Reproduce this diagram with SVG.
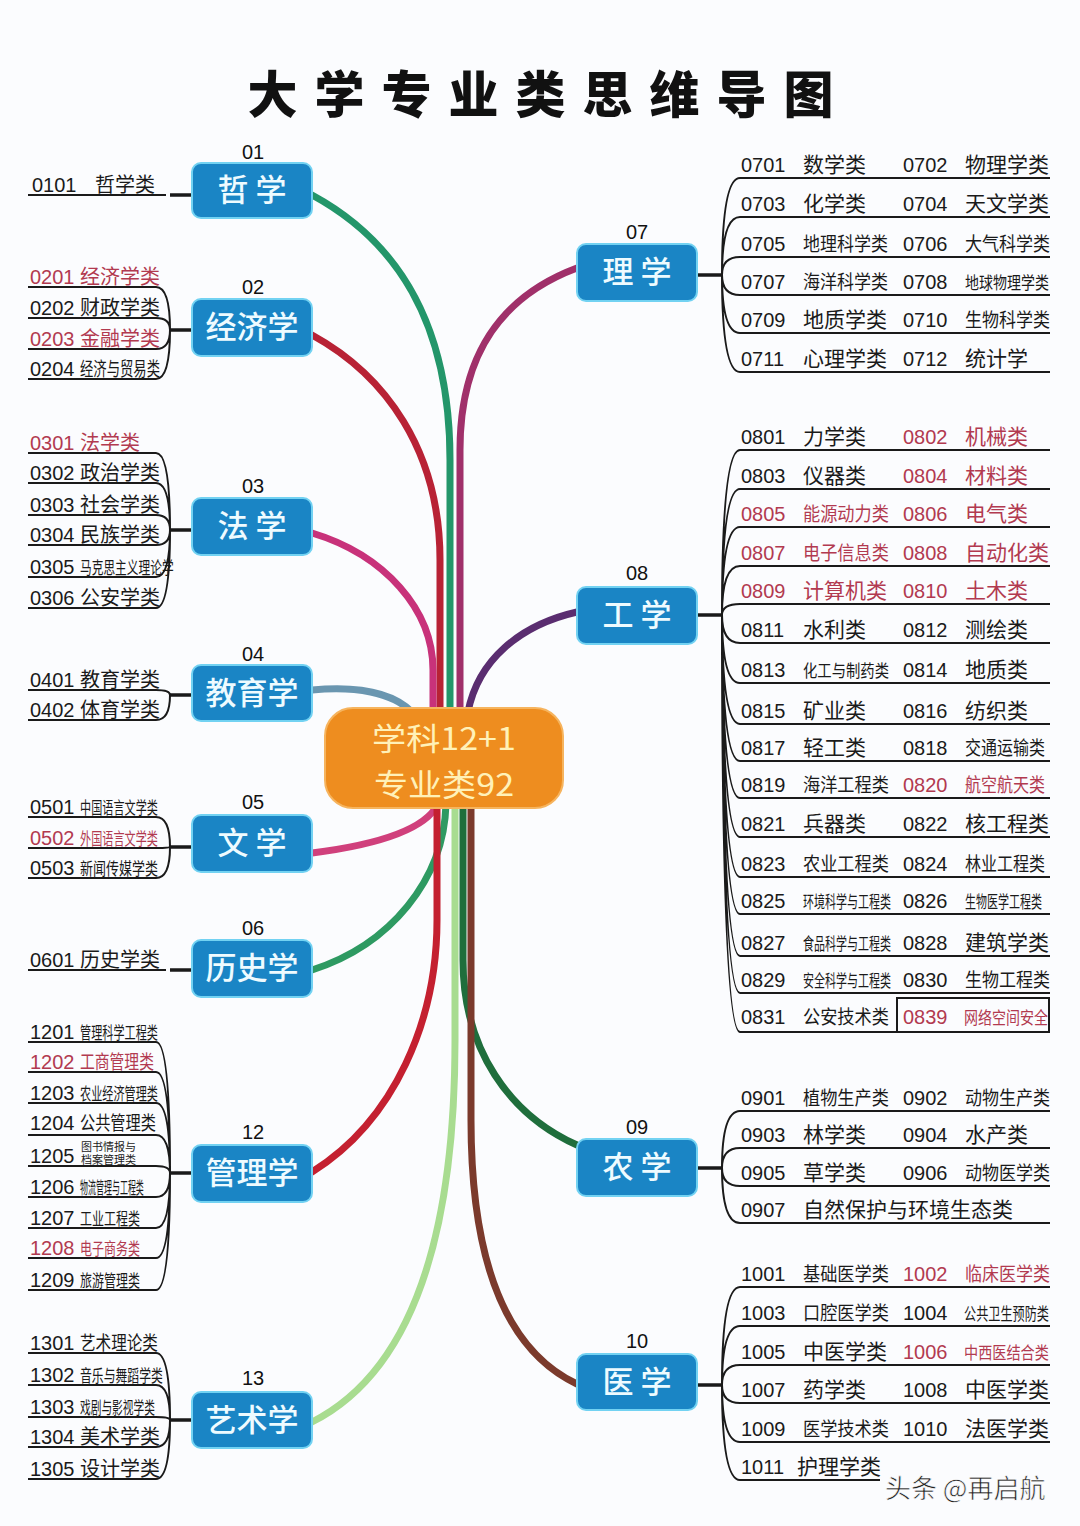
<svg xmlns="http://www.w3.org/2000/svg" width="1080" height="1526" viewBox="0 0 1080 1526">
<style>
.code{font-family:"Liberation Sans",Arial,sans-serif;font-size:20px;fill:#1a1a1a}
.nmL{font-family:"Noto Sans CJK SC",sans-serif;font-size:20px;fill:#1a1a1a}
.nm{font-family:"Noto Sans CJK SC",sans-serif;font-size:21px;fill:#1a1a1a}
.nc{font-family:"Noto Sans CJK SC",sans-serif;font-size:19px;fill:#1a1a1a}
.ns{font-family:"Noto Sans CJK SC",sans-serif;font-size:17px;fill:#1a1a1a}
.tiny{font-family:"Noto Sans CJK SC",sans-serif;font-size:11px;fill:#1a1a1a}
.r{fill:#B23A50}
.br{fill:none;stroke:#1a1a1a;stroke-width:2}
.stub{fill:none;stroke:#1a1a1a;stroke-width:3.5}
.tr{fill:none;stroke-width:7;stroke-linecap:round}
.box{fill:#1A85C5;stroke:#72D2F2;stroke-width:2}
.nl{font-family:"Noto Sans CJK SC",sans-serif;font-size:31px;fill:#EEFBFF;text-anchor:middle;font-weight:500}
.num{font-family:"Liberation Sans",Arial,sans-serif;font-size:20px;fill:#111;text-anchor:middle}
.ct{font-family:"Noto Sans CJK SC",sans-serif;font-size:31px;fill:#FFF1B8;text-anchor:middle}
</style>
<rect width="1080" height="1526" fill="#FBFCFE"/>
<text x="549" y="113" font-family="Noto Sans CJK SC, sans-serif" font-size="50" font-weight="900" letter-spacing="17" text-anchor="middle" fill="#111">大学专业类思维导图</text>

<g id="connectors">
  <path class="tr" stroke="#23966A" d="M312,195 C395,240 450,320 450,460 V712"/>
  <path class="tr" stroke="#B82235" d="M312,335 C385,375 440,450 440,560 V712"/>
  <path class="tr" stroke="#C8327A" d="M312,533 C385,555 433,610 433,670 V712"/>
  <path class="tr" stroke="#6A96B0" d="M312,690 C355,686 392,692 412,712"/>
  <path class="tr" stroke="#A0306A" d="M577,268 C505,295 460,350 460,450 V712"/>
  <path class="tr" stroke="#5A2D70" d="M577,612 C520,625 478,660 468,712"/>
  <path class="tr" stroke="#D0407C" d="M312,853 C375,845 425,830 438,804"/>
  <path class="tr" stroke="#2E9A62" d="M312,970 C390,945 444,880 446,804"/>
  <path class="tr" stroke="#C42030" d="M312,1172 C395,1120 437,1020 437,920 V804"/>
  <path class="tr" stroke="#A8DC90" d="M312,1422 C415,1370 455,1230 455,1040 V804"/>
  <path class="tr" stroke="#1F6E3C" d="M577,1145 C510,1115 463,1050 463,960 V804"/>
  <path class="tr" stroke="#7B3A2C" d="M577,1384 C505,1350 471,1260 471,1120 V804"/>

  <path class="br" d="M28,195 H166"/><path class="stub" d="M170,195 H192"/>
  <path class="stub" d="M170,330 H192"/>
  <path class="br" d="M170,330 Q170,287 156,287 H28 M170,330 Q170,318 156,318 H28 M170,330 Q170,349 156,349 H28 M170,330 Q170,379 156,379 H28"/>
  <path class="stub" d="M170,530 H192"/>
  <path class="br" d="M170,530 Q170,453 156,453 H28 M170,530 Q170,483 156,483 H28 M170,530 Q170,515 156,515 H28 M170,530 Q170,545 156,545 H28 M170,530 Q170,577 156,577 H28 M170,530 Q170,608 156,608 H28"/>
  <path class="stub" d="M170,695 H192"/>
  <path class="br" d="M170,695 Q170,690 156,690 H28 M170,695 Q170,720 156,720 H28"/>
  <path class="stub" d="M170,847 H192"/>
  <path class="br" d="M170,847 Q170,817 156,817 H28 M170,847 Q170,848 156,848 H28 M170,847 Q170,878 156,878 H28"/>
  <path class="br" d="M28,970 H166"/><path class="stub" d="M170,970 H192"/>
  <path class="stub" d="M170,1173 H192"/>
  <path class="br" d="M170,1173 Q170,1042 156,1042 H28 M170,1173 Q170,1072 156,1072 H28 M170,1173 Q170,1103 156,1103 H28 M170,1173 Q170,1135 156,1135 H28 M170,1173 Q170,1166 156,1166 H28 M170,1173 Q170,1197 156,1197 H28 M170,1173 Q170,1228 156,1228 H28 M170,1173 Q170,1258 156,1258 H28 M170,1173 Q170,1290 156,1290 H28"/>
  <path class="stub" d="M170,1420 H192"/>
  <path class="br" d="M170,1420 Q170,1353 156,1353 H28 M170,1420 Q170,1385 156,1385 H28 M170,1420 Q170,1417 156,1417 H28 M170,1420 Q170,1447 156,1447 H28 M170,1420 Q170,1479 156,1479 H28"/>

  <path class="stub" d="M697,275 H722"/>
  <path class="br" d="M722,275 Q722,178 740,178 H1050 M722,275 Q722,217 740,217 H1050 M722,275 Q722,257 740,257 H1050 M722,275 Q722,295 740,295 H1050 M722,275 Q722,333 740,333 H1050 M722,275 Q722,372 740,372 H1050"/>
  <path class="stub" d="M697,615 H722"/>
  <path class="br" d="M722,615 Q722,450 740,450 H1050 M722,615 Q722,489 740,489 H1050 M722,615 Q722,527 740,527 H1050 M722,615 Q722,566 740,566 H1050 M722,615 Q722,604 740,604 H1050 M722,615 Q722,643 740,643 H1050 M722,615 Q722,683 740,683 H1050 M722,615 Q722,724 740,724 H1050 M722,615 Q722,761 740,761 H1050 M722,615 Q722,798 740,798 H1050 M722,615 Q722,837 740,837 H1050 M722,615 Q722,877 740,877 H1050 M722,615 Q722,914 740,914 H1050 M722,615 Q722,956 740,956 H1050 M722,615 Q722,993 740,993 H1050 M722,615 Q722,1032 740,1032 H1050"/>
  <rect x="897" y="998" width="152" height="34" fill="none" stroke="#1a1a1a" stroke-width="2"/>
  <path class="stub" d="M697,1168 H722"/>
  <path class="br" d="M722,1168 Q722,1111 740,1111 H1050 M722,1168 Q722,1148 740,1148 H1050 M722,1168 Q722,1186 740,1186 H1050 M722,1168 Q722,1223 740,1223 H1050"/>
  <path class="stub" d="M697,1385 H722"/>
  <path class="br" d="M722,1385 Q722,1287 740,1287 H1050 M722,1385 Q722,1326 740,1326 H1050 M722,1385 Q722,1365 740,1365 H1050 M722,1385 Q722,1403 740,1403 H1050 M722,1385 Q722,1442 740,1442 H1050 M722,1385 Q722,1480 740,1480 H880"/>
</g>

<g id="center">
  <rect x="325" y="708" width="238" height="100" rx="28" fill="#EE8D1F" stroke="#F6B45E" stroke-width="2"/>
  <text class="ct" transform="translate(444,750) scale(1.1,1)">学科12+1</text>
  <text class="ct" transform="translate(444,796) scale(1.1,1)">专业类92</text>
</g>

<g id="node-01">
  <text class="num" x="253" y="159">01</text>
  <rect class="box" x="192" y="163" width="120" height="55" rx="9"/>
  <text class="nl" x="252" y="201">哲 学</text>
  <text class="code" x="32" y="192">0101</text><text class="nmL" x="95" y="192">哲学类</text>
</g>
<g id="node-02">
  <text class="num" x="253" y="294">02</text>
  <rect class="box" x="192" y="299" width="120" height="57" rx="9"/>
  <text class="nl" x="252" y="338">经济学</text>
  <text class="code r" x="30" y="284">0201</text><text class="nmL r" x="80" y="284">经济学类</text>
  <text class="code" x="30" y="315">0202</text><text class="nmL" x="80" y="315">财政学类</text>
  <text class="code r" x="30" y="346">0203</text><text class="nmL r" x="80" y="346">金融学类</text>
  <text class="code" x="30" y="376">0204</text><text class="nc" transform="translate(80,376) scale(0.702,1)">经济与贸易类</text>
</g>
<g id="node-03">
  <text class="num" x="253" y="493">03</text>
  <rect class="box" x="192" y="498" width="120" height="57" rx="9"/>
  <text class="nl" x="252" y="537">法 学</text>
  <text class="code r" x="30" y="450">0301</text><text class="nmL r" x="80" y="450">法学类</text>
  <text class="code" x="30" y="480">0302</text><text class="nmL" x="80" y="480">政治学类</text>
  <text class="code" x="30" y="512">0303</text><text class="nmL" x="80" y="512">社会学类</text>
  <text class="code" x="30" y="542">0304</text><text class="nmL" x="80" y="542">民族学类</text>
  <text class="code" x="30" y="574">0305</text><text class="ns" transform="translate(80,574) scale(0.689,1)">马克思主义理论学</text>
  <text class="code" x="30" y="605">0306</text><text class="nmL" x="80" y="605">公安学类</text>
</g>
<g id="node-04">
  <text class="num" x="253" y="661">04</text>
  <rect class="box" x="192" y="665" width="120" height="56" rx="9"/>
  <text class="nl" x="252" y="704">教育学</text>
  <text class="code" x="30" y="687">0401</text><text class="nmL" x="80" y="687">教育学类</text>
  <text class="code" x="30" y="717">0402</text><text class="nmL" x="80" y="717">体育学类</text>
</g>
<g id="node-05">
  <text class="num" x="253" y="809">05</text>
  <rect class="box" x="192" y="815" width="120" height="57" rx="9"/>
  <text class="nl" x="252" y="854">文 学</text>
  <text class="code" x="30" y="814">0501</text><text class="ns" transform="translate(80,814) scale(0.655,1)">中国语言文学类</text>
  <text class="code r" x="30" y="845">0502</text><text class="ns r" transform="translate(80,845) scale(0.655,1)">外国语言文学类</text>
  <text class="code" x="30" y="875">0503</text><text class="ns" transform="translate(80,875) scale(0.765,1)">新闻传媒学类</text>
</g>
<g id="node-06">
  <text class="num" x="253" y="935">06</text>
  <rect class="box" x="192" y="940" width="120" height="57" rx="9"/>
  <text class="nl" x="252" y="979">历史学</text>
  <text class="code" x="30" y="967">0601</text><text class="nmL" x="80" y="967">历史学类</text>
</g>
<g id="node-12">
  <text class="num" x="253" y="1139">12</text>
  <rect class="box" x="192" y="1145" width="120" height="57" rx="9"/>
  <text class="nl" x="252" y="1184">管理学</text>
  <text class="code" x="30" y="1039">1201</text><text class="ns" transform="translate(80,1039) scale(0.655,1)">管理科学工程类</text>
  <text class="code r" x="30" y="1069">1202</text><text class="nc r" transform="translate(80,1069) scale(0.779,1)">工商管理类</text>
  <text class="code" x="30" y="1100">1203</text><text class="ns" transform="translate(80,1100) scale(0.655,1)">农业经济管理类</text>
  <text class="code" x="30" y="1130">1204</text><text class="nc" transform="translate(80,1130) scale(0.8,1)">公共管理类</text>
  <text class="code" x="30" y="1163">1205</text>
  <text class="tiny"><tspan x="81" y="1151">图书情报与</tspan><tspan x="81" y="1164">档案管理类</tspan></text>
  <text class="code" x="30" y="1194">1206</text><text class="ns" transform="translate(80,1194) scale(0.47,1)">物流管理与工程类</text>
  <text class="code" x="30" y="1225">1207</text><text class="ns" transform="translate(80,1225) scale(0.706,1)">工业工程类</text>
  <text class="code r" x="30" y="1255">1208</text><text class="ns r" transform="translate(80,1255) scale(0.706,1)">电子商务类</text>
  <text class="code" x="30" y="1287">1209</text><text class="ns" transform="translate(80,1287) scale(0.706,1)">旅游管理类</text>
</g>
<g id="node-13">
  <text class="num" x="253" y="1385">13</text>
  <rect class="box" x="192" y="1392" width="120" height="56" rx="9"/>
  <text class="nl" x="252" y="1431">艺术学</text>
  <text class="code" x="30" y="1350">1301</text><text class="nc" transform="translate(80,1350) scale(0.821,1)">艺术理论类</text>
  <text class="code" x="30" y="1382">1302</text><text class="ns" transform="translate(80,1382) scale(0.697,1)">音乐与舞蹈学类</text>
  <text class="code" x="30" y="1414">1303</text><text class="ns" transform="translate(80,1414) scale(0.63,1)">戏剧与影视学类</text>
  <text class="code" x="30" y="1444">1304</text><text class="nmL" x="80" y="1444">美术学类</text>
  <text class="code" x="30" y="1476">1305</text><text class="nmL" x="80" y="1476">设计学类</text>
</g>

<g id="node-07">
  <text class="num" x="637" y="239">07</text>
  <rect class="box" x="577" y="244" width="120" height="57" rx="9"/>
  <text class="nl" x="637" y="283">理 学</text>
  <text class="code" x="741" y="172">0701</text><text class="nm" x="803" y="172">数学类</text><text class="code" x="903" y="172">0702</text><text class="nm" x="965" y="172">物理学类</text>
  <text class="code" x="741" y="211">0703</text><text class="nm" x="803" y="211">化学类</text><text class="code" x="903" y="211">0704</text><text class="nm" x="965" y="211">天文学类</text>
  <text class="code" x="741" y="251">0705</text><text class="nc" transform="translate(803,251) scale(0.895,1)">地理科学类</text><text class="code" x="903" y="251">0706</text><text class="nc" transform="translate(965,251) scale(0.895,1)">大气科学类</text>
  <text class="code" x="741" y="289">0707</text><text class="nc" transform="translate(803,289) scale(0.895,1)">海洋科学类</text><text class="code" x="903" y="289">0708</text><text class="ns" transform="translate(965,289) scale(0.824,1)">地球物理学类</text>
  <text class="code" x="741" y="327">0709</text><text class="nm" x="803" y="327">地质学类</text><text class="code" x="903" y="327">0710</text><text class="nc" transform="translate(965,327) scale(0.895,1)">生物科学类</text>
  <text class="code" x="741" y="366">0711</text><text class="nm" x="803" y="366">心理学类</text><text class="code" x="903" y="366">0712</text><text class="nm" x="965" y="366">统计学</text>
</g>
<g id="node-08">
  <text class="num" x="637" y="580">08</text>
  <rect class="box" x="577" y="587" width="120" height="57" rx="9"/>
  <text class="nl" x="637" y="626">工 学</text>
  <text class="code" x="741" y="444">0801</text><text class="nm" x="803" y="444">力学类</text><text class="code r" x="903" y="444">0802</text><text class="nm r" x="965" y="444">机械类</text>
  <text class="code" x="741" y="483">0803</text><text class="nm" x="803" y="483">仪器类</text><text class="code r" x="903" y="483">0804</text><text class="nm r" x="965" y="483">材料类</text>
  <text class="code r" x="741" y="521">0805</text><text class="nc r" transform="translate(803,521) scale(0.905,1)">能源动力类</text><text class="code r" x="903" y="521">0806</text><text class="nm r" x="965" y="521">电气类</text>
  <text class="code r" x="741" y="560">0807</text><text class="nc r" transform="translate(803,560) scale(0.905,1)">电子信息类</text><text class="code r" x="903" y="560">0808</text><text class="nm r" x="965" y="560">自动化类</text>
  <text class="code r" x="741" y="598">0809</text><text class="nm r" x="803" y="598">计算机类</text><text class="code r" x="903" y="598">0810</text><text class="nm r" x="965" y="598">土木类</text>
  <text class="code" x="741" y="637">0811</text><text class="nm" x="803" y="637">水利类</text><text class="code" x="903" y="637">0812</text><text class="nm" x="965" y="637">测绘类</text>
  <text class="code" x="741" y="677">0813</text><text class="ns" transform="translate(803,677) scale(0.843,1)">化工与制药类</text><text class="code" x="903" y="677">0814</text><text class="nm" x="965" y="677">地质类</text>
  <text class="code" x="741" y="718">0815</text><text class="nm" x="803" y="718">矿业类</text><text class="code" x="903" y="718">0816</text><text class="nm" x="965" y="718">纺织类</text>
  <text class="code" x="741" y="755">0817</text><text class="nm" x="803" y="755">轻工类</text><text class="code" x="903" y="755">0818</text><text class="nc" transform="translate(965,755) scale(0.842,1)">交通运输类</text>
  <text class="code" x="741" y="792">0819</text><text class="nc" transform="translate(803,792) scale(0.905,1)">海洋工程类</text><text class="code r" x="903" y="792">0820</text><text class="nc r" transform="translate(965,792) scale(0.842,1)">航空航天类</text>
  <text class="code" x="741" y="831">0821</text><text class="nm" x="803" y="831">兵器类</text><text class="code" x="903" y="831">0822</text><text class="nm" x="965" y="831">核工程类</text>
  <text class="code" x="741" y="871">0823</text><text class="nc" transform="translate(803,871) scale(0.905,1)">农业工程类</text><text class="code" x="903" y="871">0824</text><text class="nc" transform="translate(965,871) scale(0.842,1)">林业工程类</text>
  <text class="code" x="741" y="908">0825</text><text class="ns" transform="translate(803,908) scale(0.647,1)">环境科学与工程类</text><text class="code" x="903" y="908">0826</text><text class="ns" transform="translate(965,908) scale(0.647,1)">生物医学工程类</text>
  <text class="code" x="741" y="950">0827</text><text class="ns" transform="translate(803,950) scale(0.647,1)">食品科学与工程类</text><text class="code" x="903" y="950">0828</text><text class="nm" x="965" y="950">建筑学类</text>
  <text class="code" x="741" y="987">0829</text><text class="ns" transform="translate(803,987) scale(0.647,1)">安全科学与工程类</text><text class="code" x="903" y="987">0830</text><text class="nc" transform="translate(965,987) scale(0.895,1)">生物工程类</text>
  <text class="code" x="741" y="1024">0831</text><text class="nc" transform="translate(803,1024) scale(0.905,1)">公安技术类</text><text class="code r" x="903" y="1024">0839</text><text class="ns r" transform="translate(964,1024) scale(0.824,1)">网络空间安全</text>
</g>
<g id="node-09">
  <text class="num" x="637" y="1134">09</text>
  <rect class="box" x="577" y="1139" width="120" height="57" rx="9"/>
  <text class="nl" x="637" y="1178">农 学</text>
  <text class="code" x="741" y="1105">0901</text><text class="nc" transform="translate(803,1105) scale(0.905,1)">植物生产类</text><text class="code" x="903" y="1105">0902</text><text class="nc" transform="translate(965,1105) scale(0.895,1)">动物生产类</text>
  <text class="code" x="741" y="1142">0903</text><text class="nm" x="803" y="1142">林学类</text><text class="code" x="903" y="1142">0904</text><text class="nm" x="965" y="1142">水产类</text>
  <text class="code" x="741" y="1180">0905</text><text class="nm" x="803" y="1180">草学类</text><text class="code" x="903" y="1180">0906</text><text class="nc" transform="translate(965,1180) scale(0.895,1)">动物医学类</text>
  <text class="code" x="741" y="1217">0907</text><text class="nm" x="803" y="1217">自然保护与环境生态类</text>
</g>
<g id="node-10">
  <text class="num" x="637" y="1348">10</text>
  <rect class="box" x="577" y="1354" width="120" height="56" rx="9"/>
  <text class="nl" x="637" y="1393">医 学</text>
  <text class="code" x="741" y="1281">1001</text><text class="nc" transform="translate(803,1281) scale(0.905,1)">基础医学类</text><text class="code r" x="903" y="1281">1002</text><text class="nc r" transform="translate(965,1281) scale(0.895,1)">临床医学类</text>
  <text class="code" x="741" y="1320">1003</text><text class="nc" transform="translate(803,1320) scale(0.905,1)">口腔医学类</text><text class="code" x="903" y="1320">1004</text><text class="ns" transform="translate(964,1320) scale(0.714,1)">公共卫生预防类</text>
  <text class="code" x="741" y="1359">1005</text><text class="nm" x="803" y="1359">中医学类</text><text class="code r" x="903" y="1359">1006</text><text class="ns r" transform="translate(964,1359) scale(0.833,1)">中西医结合类</text>
  <text class="code" x="741" y="1397">1007</text><text class="nm" x="803" y="1397">药学类</text><text class="code" x="903" y="1397">1008</text><text class="nm" x="965" y="1397">中医学类</text>
  <text class="code" x="741" y="1436">1009</text><text class="nc" transform="translate(803,1436) scale(0.905,1)">医学技术类</text><text class="code" x="903" y="1436">1010</text><text class="nm" x="965" y="1436">法医学类</text>
  <text class="code" x="741" y="1474">1011</text><text class="nm" x="797" y="1474">护理学类</text>
</g>

<text x="885" y="1498" font-family="Noto Sans CJK SC, sans-serif" font-size="26" fill="#222" stroke="#FFFFFF" stroke-width="0.6">头条 @再启航</text>
</svg>
